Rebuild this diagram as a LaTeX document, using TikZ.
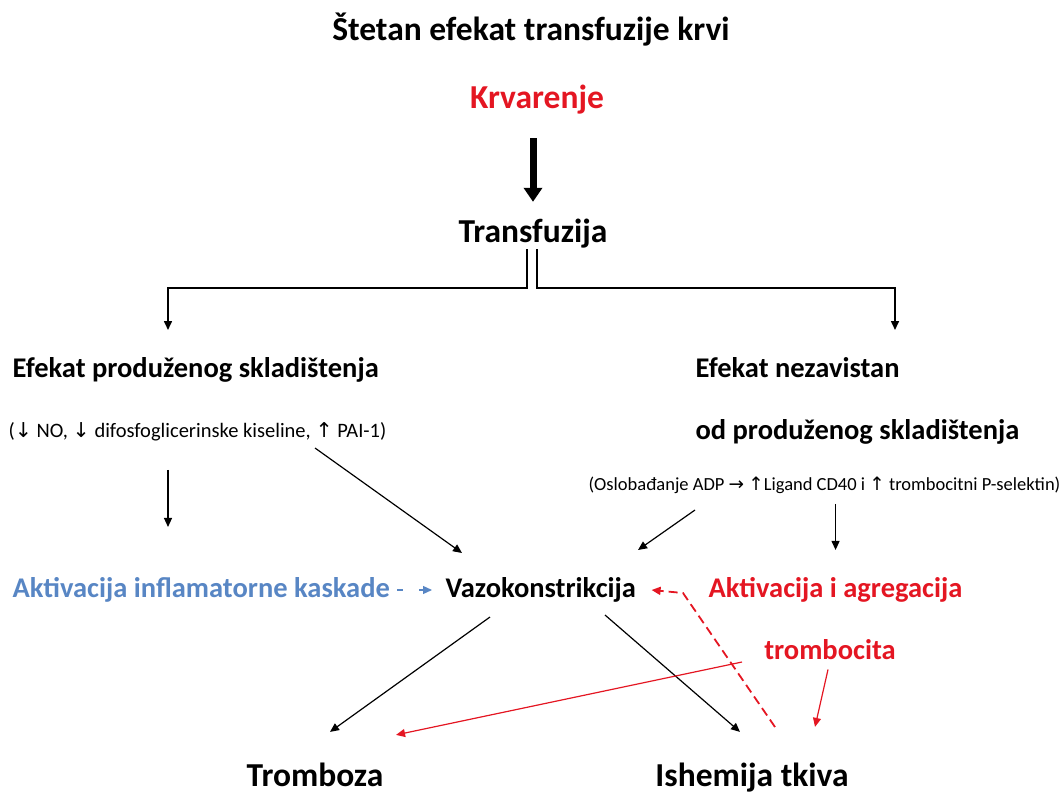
\documentclass[tikz,border=0pt]{standalone}
\usepackage{fontspec}
\setmainfont{Carlito}
\newfontfamily\symfont{DejaVu Sans}
\usetikzlibrary{positioning,arrows.meta}
\definecolor{krvred}{RGB}{228,22,34}
\definecolor{kaskblue}{RGB}{88,134,196}
\newcommand{\arrdn}{{\symfont\char"2193}}
\newcommand{\arrup}{{\symfont\char"2191}}
\newcommand{\arrri}{{\symfont\char"2192}}
\begin{document}
\begin{tikzpicture}[x=1pt,y=-1pt, line width=1.2pt, >={Triangle[length=9pt,width=8pt]}]
		\tikzstyle{head}=[inner sep=0pt, font=\bfseries\fontsize{33.5}{38}\selectfont]
		\tikzstyle{sub}=[inner sep=0pt, font=\bfseries\fontsize{28.5}{33}\selectfont]
		\tikzstyle{small}=[inner sep=0pt, font=\fontsize{20.5}{24}\selectfont]
		\useasboundingbox (0,0) rectangle (1062,794);
		\node[head] (title) at (531,30) {Štetan efekat transfuzije krvi};
		\node[head, text=krvred] (krv) at (537,100) {Krvarenje};
		\node[head] (tr) at (533,234) {Transfuzija};
		\node[sub, anchor=west] (ep) at (12,370) {Efekat produženog skladištenja};
		\node[small, anchor=west] (epx) at (8,432)
		{(\arrdn{} NO, \arrdn{} difosfoglicerinske kiseline, \arrup{} PAI-1)};
		\node[sub, anchor=west] (en) at (695,368) {Efekat nezavistan};
		\node[sub, anchor=west] (en2) at (695,432) {od produženog skladištenja};
		\node[small, font=\fontsize{18.5}{22}\selectfont, anchor=west] (enx) at (588,485)
		{(Oslobađanje ADP \arrri{} \arrup{}Ligand CD40 i \arrup{} trombocitni P-selektin)};
		\node[sub, text=kaskblue, anchor=west] (akt) at (12,590) {Aktivacija inflamatorne kaskade};
		\node[sub, anchor=west] (vaz) at (445,590) {Vazokonstrikcija};
		\node[sub, text=krvred, anchor=west] (agr) at (708,590) {Aktivacija i agregacija};
		\node[sub, text=krvred] (tromb) at (830,650) {trombocita};
		\node[head, anchor=base] (tro) at (315,786) {Tromboza};
		\node[head, anchor=base] (ish) at (752,786) {Ishemija tkiva};
		% free ends
		\coordinate (cl) at (168,330);
		\coordinate (cr) at (895,330);
		\coordinate (dl) at (315,448);
		\coordinate (dr) at (695,510);
		\coordinate (rk) at (775,727);
		\coordinate (rb) at (683,593);
		\coordinate (rt) at (742,662);
		\draw[line width=7pt, -{Triangle[length=14pt,width=18pt]}, shorten <=23pt, shorten >=17pt] (tr.north |- krv.south) -- (tr.north);
		\draw[line width=1.6pt, ->] ([xshift=-6pt]tr.south) -- ++(0,39) -| (cl);
		\draw[line width=1.6pt, ->] ([xshift=4pt]tr.south) -- ++(0,39) -| (cr);
		\draw[->, shorten <=28pt, shorten >=50pt] (epx.south -| cl) -- (akt.north -| cl);
		\draw[->] (dl) -- ([xshift=17pt,yshift=24pt]vaz.north west);
		\draw[->] (dr) -- ([xshift=193pt,yshift=27pt]vaz.north west);
		\draw[->, shorten <=10pt, shorten >=27pt] (enx.south -| agr.north) -- (agr.north);
		\draw[kaskblue, dash pattern=on 6pt off 16pt, ->] ([xshift=7pt]akt.east) -- ([xshift=-13pt]vaz.west);
		\draw[->] ([xshift=45pt,yshift=-14pt]vaz.south west) -- ([xshift=15pt,yshift=30pt]tro.north);
		\draw[->] ([xshift=160pt,yshift=-12pt]vaz.south west) -- ([xshift=-12pt,yshift=30pt]ish.north);
		\draw[krvred, line width=1.8pt, dash pattern=on 9pt off 5pt, ->] (rk) -- (rb) -- ([xshift=15pt]vaz.east);
		\draw[krvred, ->] (rt) -- ([xshift=150pt,yshift=27pt]tro.north west);
		\draw[krvred, ->, shorten <=9pt] (tromb.south) -- ([xshift=63pt,yshift=35pt]ish.north);
	\end{tikzpicture}
\end{document}
